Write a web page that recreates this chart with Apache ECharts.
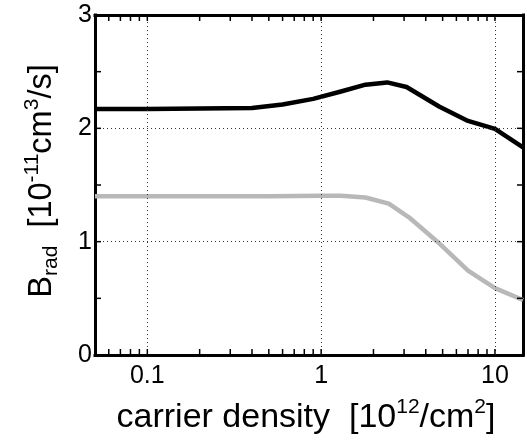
<!DOCTYPE html>
<html>
<head>
<meta charset="utf-8">
<style>
  html, body { margin: 0; padding: 0; background: #fff; }
  #chart { width: 527px; height: 442px; }
</style>
<script src="https://cdn.jsdelivr.net/npm/echarts@6/dist/echarts.min.js"></script>
</head>
<body>
<div id="chart"></div>
<script>
// Radiative recombination coefficient vs. sheet carrier density
const densityUpper = [0.05, 0.1, 0.4, 0.6, 0.9, 1.3, 1.8, 2.4, 3.1, 4.8, 7, 10, 14.5];
const bradUpper    = [2.17, 2.17, 2.18, 2.21, 2.26, 2.325, 2.385, 2.405, 2.365, 2.19, 2.065, 1.995, 1.833];

const densityLower = [0.05, 0.1, 0.5, 1, 1.3, 1.8, 2.45, 3.2, 4.7, 7, 10, 14.5];
const bradLower    = [1.40, 1.40, 1.40, 1.405, 1.405, 1.39, 1.335, 1.215, 0.995, 0.745, 0.59, 0.485];

// log-axis tick positions (minor + decades), labelled decades, grid lines
const xTickValues = [0.06, 0.07, 0.08, 0.09, 0.1, 0.2, 0.3, 0.4, 0.5, 0.6, 0.7, 0.8, 0.9,
                     1, 2, 3, 4, 5, 6, 7, 8, 9, 10];
const xLabelValues = [0.1, 1, 10];
const xGridValues = [0.1, 1, 10];
const yTickValues = [0.5, 1, 1.5, 2, 2.5];
const yLabelValues = [0, 1, 2, 3];
const yGridValues = [1, 2];

const X_MIN = 0.05, X_MAX = 14.5;
const Y_MIN = 0, Y_MAX = 3, Y_STEP = 0.5;
const TICK_LEN = 6, TICK_W = 1.5;
const FONT = '"Liberation Sans", Arial, Helvetica, sans-serif';

const zip = (xs, ys) => xs.map((x, i) => [x, ys[i]]);

const frameLine = () => ({ show: true, onZero: false, lineStyle: { color: '#000', width: 3, cap: 'square' } });
const noLabel = { show: false };
const noSplit = { show: false };

const gridLineData = [
  ...xGridValues.map(v => ({ xAxis: v })),
  ...yGridValues.map(v => ({ yAxis: v }))
];

const chart = echarts.init(document.getElementById('chart'), null, { renderer: 'canvas' });

chart.setOption({
  animation: false,
  backgroundColor: '#fff',
  grid: { left: 95, right: 4, top: 15, bottom: 87, containLabel: false },
  xAxis: [
    {
      type: 'log', logBase: 10, position: 'bottom', min: X_MIN, max: X_MAX,
      axisLine: frameLine(), axisTick: { show: false },
      axisLabel: {
        color: '#000', fontSize: 25, fontFamily: FONT, margin: 9,
        formatter: v => (xLabelValues.some(d => Math.abs(d - v) < 1e-9) ? String(v) : '')
      },
      splitLine: noSplit
    },
    {
      type: 'log', logBase: 10, position: 'top', min: X_MIN, max: X_MAX,
      axisLine: frameLine(), axisTick: { show: false }, axisLabel: noLabel, splitLine: noSplit
    }
  ],
  yAxis: [
    {
      type: 'value', position: 'left', min: Y_MIN, max: Y_MAX, interval: Y_STEP,
      axisLine: frameLine(), axisTick: { show: false },
      axisLabel: {
        color: '#000', fontSize: 25, fontFamily: FONT, margin: 3,
        formatter: v => (yLabelValues.includes(v) ? String(v) : '')
      },
      splitLine: noSplit
    },
    {
      type: 'value', position: 'right', min: Y_MIN, max: Y_MAX, interval: Y_STEP,
      axisLine: frameLine(), axisTick: { show: false }, axisLabel: noLabel, splitLine: noSplit
    }
  ],
  series: [
    {
      name: 'grid', type: 'line', data: [], z: 1, silent: true,
      markLine: {
        silent: true, symbol: 'none', label: { show: false },
        lineStyle: { color: '#333', width: 1, type: [1, 3] },
        data: gridLineData
      }
    },
    {
      name: 'lower', type: 'line', z: 3, showSymbol: false, smooth: false,
      data: zip(densityLower, bradLower),
      lineStyle: { color: '#b8b8b8', width: 4.5, join: 'round' }
    },
    {
      name: 'upper', type: 'line', z: 4, showSymbol: false, smooth: false,
      data: zip(densityUpper, bradUpper),
      lineStyle: { color: '#000', width: 4.5, join: 'round' }
    }
  ],
  graphic: [
    {
      id: 'xTitle', type: 'text', z: 10,
      x: 306, y: 418,
      style: {
        text: 'carrier density  [10{sup|12}/cm{sup|2}]',
        align: 'center', verticalAlign: 'middle',
        font: '34px ' + FONT, fill: '#000',
        rich: {
          sup: { fontSize: 21, fontFamily: FONT, lineHeight: 20, verticalAlign: 'top', fill: '#000' }
        },
        lineHeight: 42
      }
    },
    {
      id: 'yTitle', type: 'text', z: 10,
      x: 42, y: 181, rotation: Math.PI / 2,
      style: {
        text: '{b|B}{sub|rad}{b|  [10}{sup|-11}{b|cm}{sup|3}{b|/s]}',
        align: 'center', verticalAlign: 'middle', fill: '#000',
        rich: {
          b:   { fontSize: 32.5, fontFamily: FONT, lineHeight: 40, fill: '#000' },
          sup: { fontSize: 21, fontFamily: FONT, lineHeight: 20, verticalAlign: 'top', fill: '#000' },
          sub: { fontSize: 21, fontFamily: FONT, lineHeight: 20, verticalAlign: 'bottom', fill: '#000' }
        }
      }
    }
  ]
});

// Inward tick marks on all four frame sides, positioned through the axis scales.
const toPx = (x, y) => chart.convertToPixel({ xAxisIndex: 0, yAxisIndex: 0 }, [x, y]);
const tickRect = (id, x, y, w, h) => ({
  id, type: 'rect', z: 20, silent: true,
  shape: { x, y, width: w, height: h },
  style: { fill: '#000' }
});
const tickElements = [];
xTickValues.forEach((v, i) => {
  const b = toPx(v, Y_MIN);
  const t = toPx(v, Y_MAX);
  tickElements.push(tickRect('xtb' + i, b[0] - TICK_W / 2, b[1] - TICK_LEN, TICK_W, TICK_LEN));
  tickElements.push(tickRect('xtt' + i, t[0] - TICK_W / 2, t[1], TICK_W, TICK_LEN));
});
yTickValues.forEach((v, i) => {
  const l = toPx(X_MIN, v);
  const r = toPx(X_MAX, v);
  tickElements.push(tickRect('ytl' + i, l[0], l[1] - TICK_W / 2, TICK_LEN, TICK_W));
  tickElements.push(tickRect('ytr' + i, r[0] - TICK_LEN, r[1] - TICK_W / 2, TICK_LEN, TICK_W));
});
chart.setOption({ graphic: tickElements });
</script>
</body>
</html>
